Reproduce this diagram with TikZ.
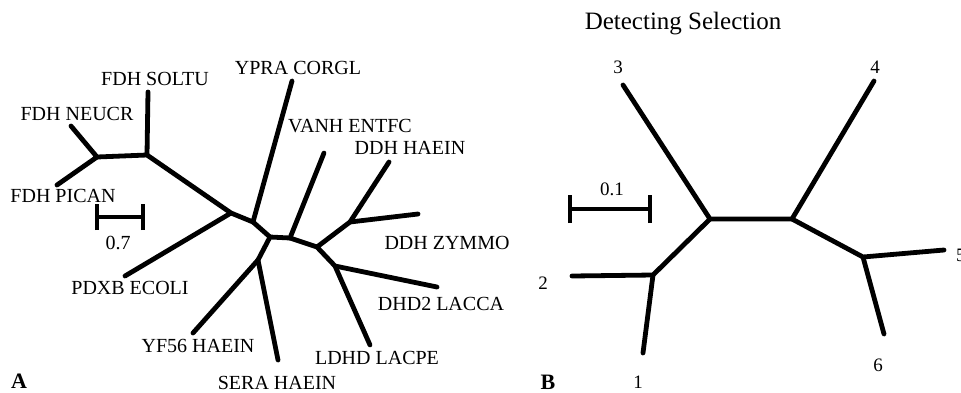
\documentclass[tikz,border=0pt]{standalone}
\usepackage{fontspec}
\setmainfont{Liberation Serif}
\begin{document}
\begin{tikzpicture}[x=1pt,y=-1pt,
  branch/.style={line width=4.8pt,line cap=round,line join=round},
  barstyle/.style={line width=4.4pt,line cap=butt},
  leaf/.style={anchor=base,inner sep=0pt,font=\fontsize{20}{20}\selectfont},
  num/.style={anchor=base,inner sep=0pt,font=\fontsize{19}{19}\selectfont},
  panel/.style={anchor=base,inner sep=0pt,font=\fontsize{22}{22}\selectfont\bfseries}]
\useasboundingbox (0,0) rectangle (961,392);

% ---------- Tree A ----------
% tips
\coordinate (soltu) at (148,92);
\coordinate (neucr) at (71,126);
\coordinate (pican) at (57,185);
\coordinate (pdxb)  at (125,276);
\coordinate (ypra)  at (292,81);
\coordinate (vanh)  at (324,153);
\coordinate (ddhh)  at (389,162);
\coordinate (ddhz)  at (418,214);
\coordinate (dhd2)  at (437,287);
\coordinate (ldhd)  at (370,345);
\coordinate (yf56)  at (193,333);
\coordinate (sera)  at (278,360);
% internal nodes
\coordinate (a1) at (97,157);
\coordinate (a2) at (147,155);
\coordinate (a3) at (231,213);
\coordinate (a4) at (253,222);
\coordinate (a5) at (270,237);
\coordinate (a6) at (290,238);
\coordinate (a7) at (258,260);
\coordinate (a8) at (317,247);
\coordinate (a9) at (350,222);
\coordinate (a10) at (335,266);

\draw[branch] (neucr) -- (a1) -- (pican);
\draw[branch] (a1) -- (a2) -- (soltu);
\draw[branch] (a2) -- (a3) -- (pdxb);
\draw[branch] (a3) -- (a4) -- (ypra);
\draw[branch] (a4) -- (a5) -- (a6) -- (vanh);
\draw[branch] (a5) -- (a7) -- (yf56);
\draw[branch] (a7) -- (sera);
\draw[branch] (a6) -- (a8) -- (a9) -- (ddhh);
\draw[branch] (a9) -- (ddhz);
\draw[branch] (a8) -- (a10) -- (dhd2);
\draw[branch] (a10) -- (ldhd);

% leaf labels
\node[leaf] (lsoltu) at (155,85)  {FDH SOLTU};
\node[leaf] (lypra)  at (298,74)  {YPRA CORGL};
\node[leaf] (lneucr) at (77,120)  {FDH NEUCR};
\node[leaf] (lvanh)  at (350,132) {VANH ENTFC};
\node[leaf] (lddhh)  at (410,154) {DDH HAEIN};
\node[leaf] (lpican) at (63,202)  {FDH PICAN};
\node[leaf] (lddhz)  at (447,249) {DDH ZYMMO};
\node[leaf] (lpdxb)  at (130,294) {PDXB ECOLI};
\node[leaf] (ldhd2)  at (441,310) {DHD2 LACCA};
\node[leaf] (lyf56)  at (198,352) {YF56 HAEIN};
\node[leaf] (lldhd)  at (377,364) {LDHD LACPE};
\node[leaf] (lsera)  at (277,389) {SERA HAEIN};

% scale bar A
\coordinate (sa1) at (97,217);
\coordinate (sa2) at (143,217);
\draw[barstyle] (sa1) -- (sa2);
\draw[barstyle] ([yshift=-13]sa1) -- ([yshift=13]sa1);
\draw[barstyle] ([yshift=-13]sa2) -- ([yshift=13]sa2);
\node[leaf] (lsa) at (118,249) {0.7};

\node[panel] (pA) at (19,388) {A};

% ---------- Tree B ----------
\node[anchor=base,inner sep=0pt,font=\fontsize{25}{25}\selectfont] (title) at (683,29) {Detecting Selection};

\coordinate (t1) at (643,353);
\coordinate (t2) at (572,276);
\coordinate (t3) at (623,85);
\coordinate (t4) at (874,81);
\coordinate (t5) at (944,250);
\coordinate (t6) at (884,334);
\coordinate (b1) at (710,219);
\coordinate (b2) at (792,219);
\coordinate (b3) at (653,275);
\coordinate (b4) at (863,257);

\draw[branch] (t3) -- (b1) -- (b2) -- (t4);
\draw[branch] (b1) -- (b3) -- (t2);
\draw[branch] (b3) -- (t1);
\draw[branch] (b2) -- (b4) -- (t5);
\draw[branch] (b4) -- (t6);

\node[num] (n1) at (638,388) {1};
\node[num] (n2) at (543,289) {2};
\node[num] (n3) at (618,73)  {3};
\node[num] (n4) at (875,73)  {4};
\node[num,anchor=base west] (n5) at (956,261) {5};
\node[num] (n6) at (878,371) {6};

% scale bar B
\coordinate (sb1) at (570,209);
\coordinate (sb2) at (650,209);
\draw[barstyle] (sb1) -- (sb2);
\draw[barstyle] ([yshift=-14]sb1) -- ([yshift=14]sb1);
\draw[barstyle] ([yshift=-14]sb2) -- ([yshift=14]sb2);
\node[num] (lsb) at (612,195) {0.1};

\node[panel] (pB) at (548,389) {B};
\end{tikzpicture}
\end{document}
